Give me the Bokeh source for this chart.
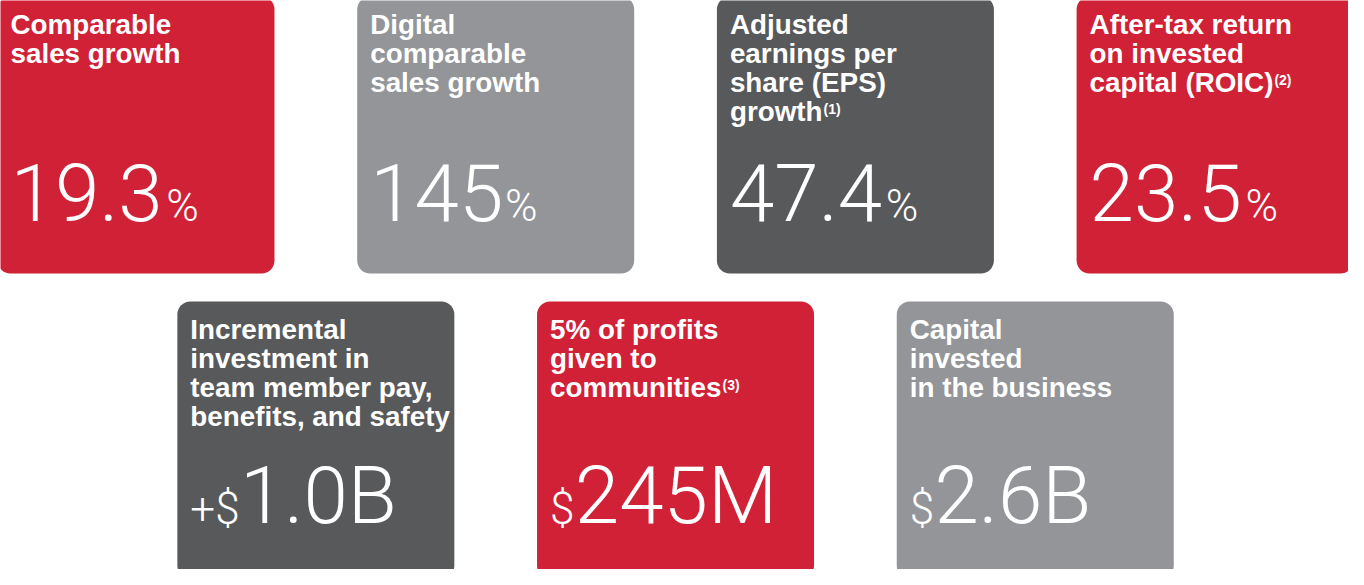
from bokeh.plotting import figure
from bokeh.models import Range1d, ColumnDataSource
from bokeh.core.properties import value
from bokeh.embed import file_html
from bokeh.resources import INLINE

# ---------------- data ----------------
titles = [
    ["Comparable", "sales growth"],
    ["Digital", "comparable", "sales growth"],
    ["Adjusted", "earnings per", "share (EPS)", "growth"],
    ["After-tax return", "on invested", "capital (ROIC)"],
    ["Incremental", "investment in", "team member pay,", "benefits, and safety"],
    ["5% of profits", "given to", "communities"],
    ["Capital", "invested", "in the business"],
]
footnotes = ["", "", "(1)", "(2)", "", "(3)", ""]
prefixes = ["", "", "", "", "+$", "$", "$"]
values = ["19.3", "145", "47.4", "23.5", "1.0B", "245M", "2.6B"]
suffixes = ["%", "%", "%", "%", "", "", ""]

# ---------------- styles ----------------
RED, LIGHT, DARK = "#D12137", "#939598", "#58595B"
card_colors = [RED, LIGHT, DARK, RED, DARK, RED, LIGHT]
rows = [0, 0, 0, 0, 1, 1, 1]
cols = [0, 1, 2, 3, 0, 1, 2]

TITLE_FONT = value("Liberation Sans")
VALUE_FONT = value("Roboto Light, Lato Light, Roboto, sans-serif")
TITLE_SIZE, SUP_SIZE, BIG_SIZE, SMALL_SIZE = 27.8, 14, 80, 44
FIX = 0.37  # em; compensates the renderer's alphabetic-baseline shift

# advance widths (em) used to chain text pieces
ARIAL_BOLD = {" ": .278, "a": .556, "b": .611, "c": .556, "d": .611, "e": .556, "f": .333,
              "g": .611, "h": .611, "i": .278, "j": .278, "k": .556, "l": .278, "m": .889,
              "n": .611, "o": .611, "p": .611, "r": .389, "s": .556, "t": .333, "u": .611,
              "v": .556, "w": .778, "x": .556, "y": .556, "(": .333, ")": .333, "C": .722,
              "R": .722, "O": .778, "I": .278, "E": .667, "P": .667, "S": .667, ",": .278}
ROBOTO_LIGHT = {".": .263, "B": .623, "M": .852, "$": .5615, "+": .566, "%": .733}


def adv(s, table, size, default=.5615):
    return sum(table.get(c, default) for c in s) * size


# ---------------- layout ----------------
STEP_X, STEP_Y, X0, Y0, CARD = 359.7, 305, 5, 4, 277
PAD, LINE0, LINE_H, VAL_BASE = 13, 38, 29, 226

lefts = [X0 + STEP_X * c + STEP_X / 2 * r for r, c in zip(rows, cols)]
tops = [Y0 + STEP_Y * r for r in rows]

W, H = 1348, 569
p = figure(width=W, height=H, x_range=Range1d(8, 8 + W), y_range=Range1d(8 + H, 8),
           output_backend="svg", toolbar_location=None, x_axis_type=None, y_axis_type=None,
           min_border=0, outline_line_color=None, background_fill_color="white")
p.grid.visible = False

cards = ColumnDataSource(dict(left=lefts, right=[l + CARD for l in lefts], top=tops,
                              bottom=[t + CARD for t in tops], color=card_colors))
p.quad(left="left", right="right", top="top", bottom="bottom", fill_color="color",
       line_color=None, border_radius=13, source=cards)

# titles
tx, ty, tt = [], [], []
sx, sy, st = [], [], []
for i, lines in enumerate(titles):
    x = lefts[i] + PAD
    for j, line in enumerate(lines):
        y = tops[i] + LINE0 + LINE_H * j
        tx.append(x); ty.append(y - FIX * TITLE_SIZE); tt.append(line)
        if j == len(lines) - 1 and footnotes[i]:
            sx.append(x + adv(line, ARIAL_BOLD, TITLE_SIZE, .556) + 1)
            sy.append(y - 7 - FIX * SUP_SIZE); st.append(footnotes[i])

p.text(x=tx, y=ty, text=tt, text_font=TITLE_FONT, text_font_style="bold",
       text_font_size=f"{TITLE_SIZE}px", text_color="white",
       text_baseline="alphabetic", text_align="left")
p.text(x=sx, y=sy, text=st, text_font=TITLE_FONT, text_font_style="bold",
       text_font_size=f"{SUP_SIZE}px", text_color="white",
       text_baseline="alphabetic", text_align="left")

# values
px_, py_, pt_ = [], [], []
vx, vy, vt = [], [], []
ux, uy, ut = [], [], []
for i in range(len(values)):
    x = lefts[i] + PAD
    y = tops[i] + VAL_BASE - 2 * rows[i]
    if prefixes[i]:
        px_.append(x); py_.append(y - FIX * SMALL_SIZE); pt_.append(prefixes[i])
        x += adv(prefixes[i], ROBOTO_LIGHT, SMALL_SIZE)
    vx.append(x); vy.append(y - FIX * BIG_SIZE); vt.append(values[i])
    x += adv(values[i], ROBOTO_LIGHT, BIG_SIZE)
    if suffixes[i]:
        ux.append(x); uy.append(y - FIX * SMALL_SIZE); ut.append(suffixes[i])

for xs, ys, ts, size in [(px_, py_, pt_, SMALL_SIZE), (vx, vy, vt, BIG_SIZE), (ux, uy, ut, SMALL_SIZE)]:
    p.text(x=xs, y=ys, text=ts, text_font=VALUE_FONT, text_font_size=f"{size}px",
           text_color="white", text_baseline="alphabetic", text_align="left")

open("out.html", "w").write(file_html(p, INLINE))
